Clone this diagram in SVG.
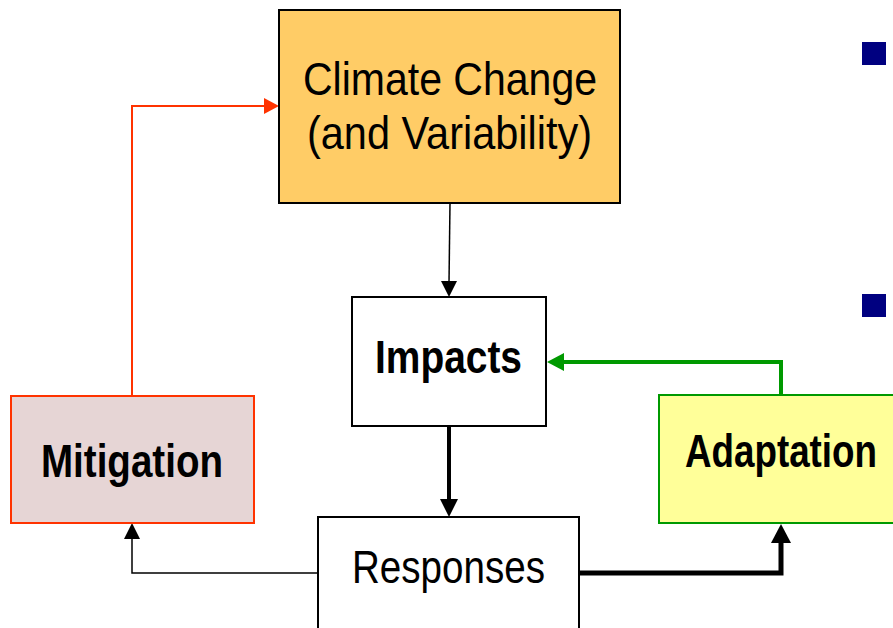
<svg xmlns="http://www.w3.org/2000/svg" width="893" height="628" viewBox="0 0 893 628">
<style>
text{font-family:"Liberation Sans",Arial,sans-serif;font-size:46px;fill:#000;text-anchor:start}
.b{font-weight:bold}
.box{stroke-width:2}
</style>
<rect width="893" height="628" fill="#fff"/>
<g id="connectors" fill="none">
<polyline points="132,395 132,106 266,106" stroke="#FF3300" stroke-width="2"/>
<polygon points="279,106 264,98 264,114" fill="#FF3300"/>
<line x1="450" y1="203" x2="449" y2="283" stroke="#000" stroke-width="1.5"/>
<polygon points="449,297 441,281 457,281" fill="#000"/>
<polyline points="781,395 781,362 562,362" stroke="#009900" stroke-width="4"/>
<polygon points="547,362 564,353 564,371" fill="#009900"/>
<line x1="449" y1="426" x2="449" y2="502" stroke="#000" stroke-width="4"/>
<polygon points="449,517 440,499 458,499" fill="#000"/>
<polyline points="318,573 132,573 132,538" stroke="#000" stroke-width="1.5"/>
<polygon points="132,523 124,539 140,539" fill="#000"/>
<polyline points="579,573 781,573 781,540" stroke="#000" stroke-width="5"/>
<polygon points="781,524 771,543 791,543" fill="#000"/>
</g>
<g id="climate">
<rect class="box" x="279" y="10" width="341" height="193" fill="#FFCC66" stroke="#000"/>
<text x="303" y="95" textLength="294" lengthAdjust="spacingAndGlyphs">Climate Change</text>
<text x="307" y="149" textLength="285" lengthAdjust="spacingAndGlyphs">(and Variability)</text>
</g>
<g id="impacts">
<rect class="box" x="352" y="297" width="194" height="129" fill="#fff" stroke="#000"/>
<text class="b" x="375" y="373" textLength="147" lengthAdjust="spacingAndGlyphs">Impacts</text>
</g>
<g id="mitigation">
<rect class="box" x="11" y="396" width="243" height="127" fill="#E6D5D5" stroke="#FF3300"/>
<text class="b" x="41" y="477" textLength="182" lengthAdjust="spacingAndGlyphs">Mitigation</text>
</g>
<g id="adaptation">
<rect class="box" x="659" y="395" width="250" height="128" fill="#FFFF99" stroke="#009900"/>
<text class="b" x="685" y="467" textLength="192" lengthAdjust="spacingAndGlyphs">Adaptation</text>
</g>
<g id="responses">
<rect class="box" x="318" y="517" width="261" height="130" fill="#fff" stroke="#000"/>
<text x="352" y="583" textLength="193" lengthAdjust="spacingAndGlyphs">Responses</text>
</g>
<g id="bullets" fill="#000080">
<rect x="862" y="42" width="24" height="23"/>
<rect x="862" y="294" width="24" height="23"/>
</g>
</svg>
